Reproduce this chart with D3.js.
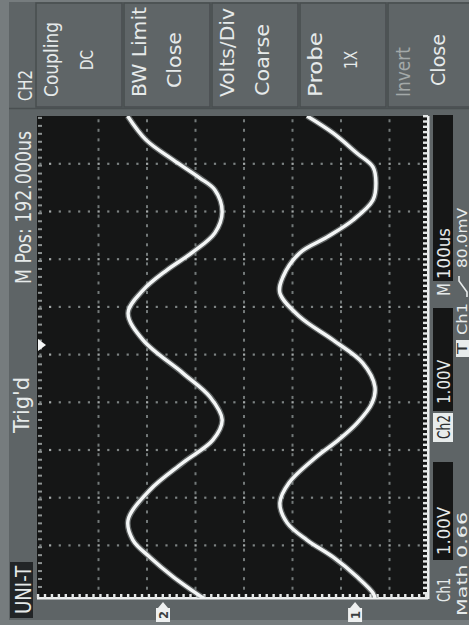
<!DOCTYPE html>
<html>
<head>
<meta charset="utf-8">
<script src="https://cdn.jsdelivr.net/npm/d3@7"></script>
<style>
body { margin: 0; background: #5e6466; }
text { font-family: "DejaVu Sans Condensed", "Liberation Sans Narrow", "DejaVu Sans", sans-serif; fill: #e6eaea; }
</style>
</head>
<body>
<div id="scope"></div>
<script>
const width = 469, height = 625;

// traces : time from left of screen (us, 100us/div) and position (div from centre, 1.00V/div)
const ch1Time = [0, 36, 78, 107, 140, 176, 218, 254, 287, 338, 371, 421, 470, 518, 568, 602, 644, 679, 715, 769, 811, 853, 889, 925, 966, 1000, 1012];
const ch1Pos  = [1.30, 1.84, 2.33, 2.66, 2.72, 2.66, 2.25, 1.71, 1.15, 0.80, 0.74, 1.15, 1.84, 2.45, 2.70, 2.64, 2.33, 1.95, 1.49, 0.93, 0.74, 0.89, 1.30, 1.84, 2.33, 2.66, 2.70];
const ch2Time = [0, 50, 92, 130, 155, 201, 245, 285, 323, 365, 413, 470, 539, 589, 637, 679, 727, 784, 847, 889, 925, 966, 1012];
const ch2Pos  = [-2.40, -2.02, -1.46, -0.91, -0.60, -0.45, -0.60, -1.05, -1.59, -2.08, -2.39, -2.08, -1.26, -0.70, -0.45, -0.64, -1.26, -1.94, -2.39, -2.29, -1.94, -1.46, -0.82];

const groundPos = [2.29, -1.67];   // ch1, ch2 ground markers (div)
const trigTime = 480;

const menuTitle = "CH2";
const menuLabels = ["Coupling", "BW Limit", "Volts/Div", "Probe", "Invert"];
const menuValues = ["DC", "Close", "Coarse", "1X", "Close"];
const statusTexts = ["M Pos: 192.000us", "Trig'd", "UNI-T"];
const timeBase = "100us";
const voltsDiv = ["1.00V", "1.00V"];
const trigInfo = ["80.0mV", "Ch1", "T"];
const mathText = "Math 0.66";

const x = d3.scaleLinear().domain([-4, 4]).range([50, 438]);
const y = d3.scaleLinear().domain([0, 1000]).range([116, 593]);
const frame = {x0: 37, x1: 428, y0: 116, y1: 599};

const svg = d3.select("#scope")
	.append("svg")
	.attr("width", width)
	.attr("height", height);

// fond
svg.append("rect").attr("width", width).attr("height", height).attr("fill", "#767c7e");
svg.append("rect").attr("x", 9).attr("y", 2).attr("width", width - 9).attr("height", 618).attr("fill", "#5e6466");

// texte vertical (lu de bas en haut)
function vtext(str, bx, y0, len, size, anchor, color) {
	return svg.append("text")
		.attr("transform", "translate(" + bx + "," + y0 + ") rotate(-90)")
		.attr("text-anchor", anchor || "start")
		.attr("font-size", size)
		.attr("textLength", len)
		.attr("lengthAdjust", "spacingAndGlyphs")
		.style("fill", color || "#e6eaea")
		.text(str);
}

/******************** menu du haut ********************/
const menu = svg.append("g");
menu.selectAll("rect")
	.data(menuLabels)
	.enter()
	.append("rect")
	.attr("x", (d, i) => 36 + i * 88)
	.attr("y", 3)
	.attr("width", 86)
	.attr("height", 104)
	.attr("fill", "#5f6567")
	.attr("stroke", "#484d4f")
	.attr("stroke-width", 1.5);
svg.append("line").attr("x1", 9).attr("x2", width).attr("y1", 108.5).attr("y2", 108.5)
	.attr("stroke", "#4a4f51").attr("stroke-width", 1.5);

vtext(menuTitle, 32, 101, 31, 20);
const labelLen = [75, 90, 89, 65, 50];
const valueLen = [20, 56, 72, 18, 52];
menuLabels.forEach(function(l, i) {
	vtext(l, 58 + i * 88, 97, labelLen[i], 20, "start", i == 4 ? "#a3a9a9" : null);
});
menuValues.forEach(function(v, i) {
	vtext(v, 93 + i * 88, 60, valueLen[i], i == 0 || i == 3 ? 17 : 19, "middle");
});

/******************** bande de gauche ********************/
vtext(statusTexts[0], 31, 284, 153, 22);
vtext(statusTexts[1], 29, 433, 56, 22);
svg.append("rect").attr("x", 10).attr("y", 562).attr("width", 23).attr("height", 56).attr("fill", "#222527");
vtext(statusTexts[2], 31, 614, 48, 21);

/******************** écran ********************/
svg.append("rect")
	.attr("x", frame.x0).attr("y", frame.y0)
	.attr("width", frame.x1 - frame.x0).attr("height", frame.y1 - frame.y0)
	.attr("fill", "#151616");

const grid = svg.append("g");
const rowTimes = d3.range(100, 1000, 100);
const colPos = d3.range(-3, 4, 1);
const rowDots = [];
rowTimes.forEach(t => d3.range(-42, 39, 2).forEach(k => rowDots.push([k / 10, t])));
const colDots = [];
colPos.forEach(p => d3.range(10, 1000, 20).forEach(t => colDots.push([p, t])));

grid.selectAll(".rd")
	.data(rowDots)
	.enter()
	.append("rect")
	.attr("x", d => x(d[0]) - 1)
	.attr("y", d => y(d[1]) - 1)
	.attr("width", 2.2)
	.attr("height", 2.2)
	.attr("fill", d => Math.abs(d[0] - Math.round(d[0])) < 0.01 ? "#a3a8a8" : "#7c8282");
grid.selectAll(".cd")
	.data(colDots)
	.enter()
	.append("rect")
	.attr("x", d => x(d[0]) - 1)
	.attr("y", d => y(d[1]) - 1.5)
	.attr("width", 2)
	.attr("height", 3)
	.attr("fill", "#737979");

// bords gradués
const edges = svg.append("g");
edges.append("rect").attr("x", frame.x1 - 1).attr("y", frame.y0).attr("width", 2.5).attr("height", frame.y1 - frame.y0).attr("fill", "#eef0f0");
edges.selectAll(".rt")
	.data(d3.range(0, 1010, 100 / 9))
	.enter()
	.append("rect")
	.attr("x", frame.x1 - 5)
	.attr("y", d => y(d) - 1)
	.attr("width", 5)
	.attr("height", 2.4)
	.attr("fill", "#e4e7e7");
edges.append("rect").attr("x", frame.x0).attr("y", frame.y1 - 2).attr("width", frame.x1 - frame.x0).attr("height", 2.5).attr("fill", "#eef0f0");
edges.selectAll(".bt")
	.data(d3.range(-4.25, 3.8, 1 / 7))
	.enter()
	.append("rect")
	.attr("x", d => x(d) - 1)
	.attr("y", frame.y1 - 5)
	.attr("width", 2.4)
	.attr("height", 4)
	.attr("fill", "#e4e7e7");
edges.selectAll(".lt")
	.data(d3.range(4, 1000, 100 / 6))
	.enter()
	.append("rect")
	.attr("x", frame.x0 + 1)
	.attr("y", d => y(d) - 1)
	.attr("width", 4)
	.attr("height", 2)
	.attr("fill", "#8d9292");

// traces
svg.append("clipPath").attr("id", "clip")
	.append("rect")
	.attr("x", frame.x0).attr("y", frame.y0)
	.attr("width", frame.x1 - frame.x0).attr("height", frame.y1 - frame.y0 - 1);

const line = d3.line()
	.x(d => x(d[1]))
	.y(d => y(d[0]))
	.curve(d3.curveCatmullRom.alpha(0.5));

const traces = [d3.zip(ch1Time, ch1Pos), d3.zip(ch2Time, ch2Pos)];
const tr = svg.append("g").attr("clip-path", "url(#clip)");
tr.selectAll(".glow")
	.data(traces)
	.enter()
	.append("path")
	.attr("d", line)
	.attr("fill", "none")
	.attr("stroke", "#8e9494")
	.attr("stroke-width", 6)
	.attr("stroke-opacity", 0.6);
tr.selectAll(".tr")
	.data(traces)
	.enter()
	.append("path")
	.attr("d", line)
	.attr("fill", "none")
	.attr("stroke", "#f4f6f6")
	.attr("stroke-width", 3.4);

// repère de déclenchement
svg.append("path")
	.attr("d", "M" + (frame.x0 + 1) + "," + (y(trigTime) - 6) + "L" + (frame.x0 + 9) + "," + y(trigTime) + "L" + (frame.x0 + 1) + "," + (y(trigTime) + 6) + "Z")
	.attr("fill", "#f4f6f6");

// repères de masse des voies
const marks = svg.append("g");
groundPos.forEach(function(p, i) {
	const cx = x(p);
	marks.append("path")
		.attr("d", "M" + cx + ",602 L" + (cx + 5) + ",608 L" + (cx + 7) + ",608 L" + (cx + 7) + ",622 L" + (cx - 7) + ",622 L" + (cx - 7) + ",608 L" + (cx - 5) + ",608 Z")
		.attr("fill", "#eef0f0");
	vtext(String(i + 1), cx + 5, 615, 8, 13, "middle", "#3a3f41")
		.attr("font-weight", "bold");
});

/******************** bande de droite ********************/
const boxes = [[115, 281], [308, 411], [462, 560]];
svg.selectAll(".bx")
	.data(boxes)
	.enter()
	.append("rect")
	.attr("x", 433)
	.attr("y", d => d[0])
	.attr("width", 20)
	.attr("height", d => d[1] - d[0])
	.attr("fill", "#151616");

vtext(timeBase, 450, 279, 51, 18);
vtext("M", 450, 296, 13, 18);
vtext(voltsDiv[1], 450, 404, 44, 18);
svg.append("rect").attr("x", 433).attr("y", 413).attr("width", 20).attr("height", 29).attr("fill", "#e8ecec");
vtext("Ch2", 450, 439, 24, 17, "start", "#2b2f31");
vtext(voltsDiv[0], 450, 555, 48, 18);
vtext("Ch1", 450, 602, 24, 17);

// dernière colonne, près du bord
vtext(trigInfo[0], 467, 268, 60, 14);
svg.append("path")
	.attr("d", "M467,297 L467,292 L459,281 L459,276")
	.attr("fill", "none")
	.attr("stroke", "#e6eaea")
	.attr("stroke-width", 1.6);
vtext(trigInfo[1], 467, 335, 32, 14);
svg.append("rect").attr("x", 456).attr("y", 340).attr("width", 13).attr("height", 17).attr("fill", "#e8ecec");
vtext(trigInfo[2], 467, 354, 11, 14, "start", "#2b2f31");
vtext(mathText, 467, 616, 104, 14);
</script>
</body>
</html>
